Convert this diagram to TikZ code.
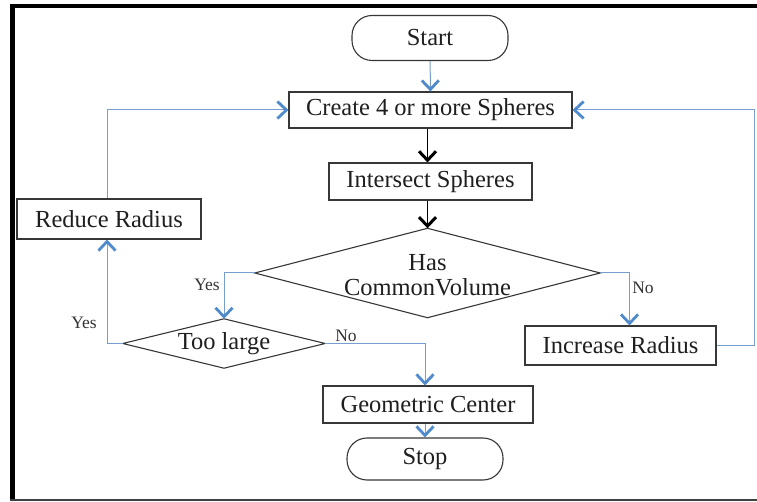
\documentclass[tikz,border=0pt]{standalone}
\usepackage{fontspec}
\setmainfont{Liberation Serif}
\usetikzlibrary{arrows.meta}
\definecolor{flowblue}{RGB}{78,138,204}
\definecolor{linkblue}{RGB}{118,158,206}
\definecolor{edgegray}{RGB}{55,55,55}
\tikzset{
  box/.style={draw=edgegray, line width=1.1pt, rectangle, inner sep=0pt,
    font=\fontsize{24.5}{27}\selectfont, text=black!88},
  term/.style={box, rounded corners=20pt},
  % decision: an undrawn box whose side midpoints are the diamond's corners
  decision/.style={rectangle, inner sep=0pt},
  decisiontext/.style={align=center, inner sep=0pt,
    font=\fontsize{24.5}{24.5}\selectfont, text=black!88},
  decisionline/.style={draw=edgegray, line width=1.1pt, line join=miter},
  blueflow/.style={draw=linkblue, line width=1pt,
    -{Straight Barb[length=9pt,width=17pt,line width=2.8pt,color=flowblue]}},
  blackflow/.style={draw=black, line width=1.8pt,
    -{Straight Barb[length=9pt,width=17pt,line width=3pt]}},
  bluelink/.style={draw=linkblue, line width=1pt},
  lbl/.style={font=\fontsize{17.5}{19}\selectfont, text=black!80, inner sep=0pt}
}
\begin{document}
\begin{tikzpicture}[x=1pt,y=-1pt]
\useasboundingbox (0,0) rectangle (757,502);
% frame
\fill[white] (0,0) rectangle (757,502);
\draw[line width=5pt] (12.5,4) -- (12.5,501);
\draw[line width=4pt] (10,6) -- (757,6);
\draw[line width=2pt, black!75] (10,500) -- (757,500);

% nodes
\node[term, minimum width=156pt, minimum height=45pt] (start) at (430,38) {Start};
\node[box, minimum width=283pt, minimum height=36pt] (create) at (430.5,110) {Create 4 or more Spheres};
\node[box, minimum width=203pt, minimum height=37pt] (intersect) at (430.5,181.5) {Intersect Spheres};
\node[decision, minimum width=345pt, minimum height=89pt] (hasvol) at (427.5,273) {};
\draw[decisionline] (hasvol.west) -- (hasvol.north) -- (hasvol.east) -- (hasvol.south) -- cycle;
\node[decisiontext] (hasvoltext) at (427.5,275) {Has\\CommonVolume};
\node[box, minimum width=184pt, minimum height=40pt] (reduce) at (109,219) {Reduce Radius};
\node[decision, minimum width=202pt, minimum height=49pt] (toolarge) at (224,343.5) {};
\draw[decisionline] (toolarge.west) -- (toolarge.north) -- (toolarge.east) -- (toolarge.south) -- cycle;
\node[decisiontext] (toolargetext) at (224,343.5) {Too large};
\node[box, minimum width=191pt, minimum height=39pt] (increase) at (620.5,345.5) {Increase Radius};
\node[box, minimum width=210pt, minimum height=37pt] (geo) at (428,404.5) {Geometric Center};
\node[term, minimum width=156pt, minimum height=42pt] (stop) at (425,459) {Stop};

% connectors
\draw[blueflow] (start) -- (create);
\draw[blackflow] ([xshift=-3pt]create.south) -- ([xshift=-3pt]intersect.north);
\draw[blackflow] (intersect.south -| hasvol.north) -- (hasvol.north);
\draw[blueflow] (hasvol.west) -| (toolarge.north);
\draw[blueflow] (hasvol.east) -| ([xshift=9pt]increase.north);
\draw[bluelink] (increase.east) -- ++(38,0) coordinate (rturn);
\draw[blueflow] (rturn) |- (create.east);
\draw[blueflow] (toolarge.west) -| ([xshift=-2pt]reduce.south);
\draw[blueflow] ([xshift=-2pt]reduce.north) |- (create.west);
\draw[blueflow] (toolarge.east) -| ([xshift=-3pt]geo.north);
\draw[blueflow] (geo.south -| stop.north) -- (stop.north);

% branch labels
\node[lbl] (yes1) at (207,285) {Yes};
\node[lbl] (yes2) at (84,323) {Yes};
\node[lbl] (no1) at (346,336) {No};
\node[lbl] (no2) at (643,288) {No};
\end{tikzpicture}
\end{document}
